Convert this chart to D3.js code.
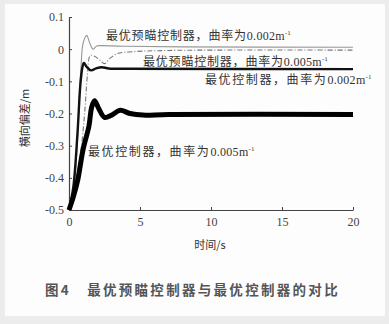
<!DOCTYPE html>
<html><head><meta charset="utf-8">
<script src="https://cdn.jsdelivr.net/npm/d3@7"></script>
<style>
html,body{margin:0;padding:0;background:#ececec;}
svg{display:block;}
</style></head>
<body>
<script>
// ---- data ----
const xTicks = [0, 5, 10, 15, 20];
const yTicks = [0.1, 0, -0.1, -0.2, -0.3, -0.4, -0.5];
const xTickLabels = ["0", "5", "10", "15", "20"];
const yTickLabels = ["0.1", "0", "-0.1", "-0.2", "-0.3", "-0.4", "-0.5"];

// optimal preview controller, curvature 0.002 (thin solid)
const tPrev002 = [0, 0.3, 0.55, 0.7, 0.85, 1.0, 1.25, 1.45, 1.7, 1.95, 2.3, 4, 8, 20];
const vPrev002 = [-0.5, -0.45, -0.32, -0.17, -0.05, 0.02, 0.043, 0.02, 0.0, 0.01, 0.011, 0.009, 0.007, 0.006];

// optimal preview controller, curvature 0.005 (dash-dot)
const tPrev005 = [0, 0.4, 0.8, 1.1, 1.3, 1.5, 1.8, 2.2, 2.5, 2.9, 3.4, 4.5, 7, 20];
const vPrev005 = [-0.5, -0.44, -0.33, -0.2, -0.08, -0.02, -0.022, -0.035, -0.045, -0.028, -0.014, -0.008, -0.004, -0.003];

// optimal controller, curvature 0.002 (medium black)
const tOpt002 = [0, 0.3, 0.6, 0.8, 0.95, 1.05, 1.25, 1.55, 1.9, 2.3, 2.8, 4, 20];
const vOpt002 = [-0.5, -0.43, -0.26, -0.11, -0.055, -0.043, -0.055, -0.066, -0.06, -0.056, -0.06, -0.061, -0.062];

// optimal controller, curvature 0.005 (thick black)
const tOpt005 = [0, 0.3, 0.6, 1.0, 1.4, 1.6, 1.8, 2.1, 2.5, 3.0, 3.6, 4.3, 5.2, 7, 20];
const vOpt005 = [-0.5, -0.46, -0.41, -0.31, -0.24, -0.18, -0.16, -0.185, -0.212, -0.205, -0.19, -0.2, -0.205, -0.203, -0.203];

const yLabel = "横向偏差/m";
const xLabel = "时间/s";
const caption = "图4   最优预瞄控制器与最优控制器的对比";

// ---- drawing ----
const W = 389, H = 324;
const svg = d3.select("body").append("svg").attr("width", W).attr("height", H);
svg.append("rect").attr("x", 5).attr("y", 4).attr("width", 380).attr("height", 312).attr("fill", "#fdfdfd");

const x = d3.scaleLinear().domain([0, 20]).range([69, 353]);
const y = d3.scaleLinear().domain([-0.5, 0.1]).range([210, 17]);

const serif = "'Liberation Serif','Times New Roman',serif";
const cjk = "'Noto Sans CJK SC',sans-serif";

const xAxis = d3.axisBottom(x).tickValues(xTicks).tickFormat((d, i) => xTickLabels[i]).tickSizeInner(-3).tickSizeOuter(0).tickPadding(7);
const yAxis = d3.axisLeft(y).tickValues(yTicks).tickFormat((d, i) => yTickLabels[i]).tickSizeInner(-3).tickSizeOuter(0).tickPadding(5);

const gx = svg.append("g").attr("transform", `translate(0,${y(-0.5)})`).call(xAxis);
const gy = svg.append("g").attr("transform", `translate(${x(0)},0)`).call(yAxis);
[gx, gy].forEach(g => {
  g.selectAll("path").attr("stroke", "#444").attr("stroke-width", 1.2);
  g.selectAll("line").attr("stroke", "#444");
  g.selectAll("text").attr("font-family", serif).attr("font-size", 12).attr("fill", "#444");
});

const line = (ts, vs) => d3.line().x((d, i) => x(ts[i])).y(d => y(d)).curve(d3.curveCatmullRom.alpha(0.5))(vs);

svg.append("path").attr("d", line(tPrev005, vPrev005)).attr("fill", "none")
  .attr("stroke", "#777").attr("stroke-width", 1.1).attr("stroke-dasharray", "5,2,1,2");
svg.append("path").attr("d", line(tPrev002, vPrev002)).attr("fill", "none")
  .attr("stroke", "#999").attr("stroke-width", 1.1);
svg.append("path").attr("d", line(tOpt002, vOpt002)).attr("fill", "none")
  .attr("stroke", "#111").attr("stroke-width", 2.4);
svg.append("path").attr("d", line(tOpt005, vOpt005)).attr("fill", "none")
  .attr("stroke", "#000").attr("stroke-width", 5);

function annot(px, py, main, num, ls) {
  const t = svg.append("text").attr("x", px).attr("y", py).attr("font-family", cjk)
    .attr("font-size", 12).attr("fill", "#333");
  t.append("tspan").attr("letter-spacing", ls).text(main);
  t.append("tspan").attr("font-family", serif).attr("font-size", 12).attr("letter-spacing", 0.3).text(num + "m");
  t.append("tspan").attr("font-family", serif).attr("font-size", 7).attr("dy", -5).text("-1");
}
annot(106, 40, "最优预瞄控制器，曲率为", "0.002", 0.8);
annot(143, 66, "最优预瞄控制器，曲率为", "0.005", 0.8);
annot(205, 84, "最优控制器，曲率为", "0.002", 1.6);
annot(88, 156, "最优控制器，曲率为", "0.005", 1.6);

svg.append("text").attr("transform", `translate(29,${118}) rotate(-90)`).attr("text-anchor", "middle")
  .attr("font-family", cjk).attr("font-size", 11).attr("fill", "#333").text(yLabel);
svg.append("text").attr("x", 210).attr("y", 249).attr("text-anchor", "middle")
  .attr("font-family", cjk).attr("font-size", 11).attr("fill", "#333").text(xLabel);
svg.append("text").attr("x", 45).attr("y", 295).attr("font-family", cjk).attr("font-weight", "bold")
  .attr("font-size", 13.5).attr("letter-spacing", 2.3).attr("fill", "#555").attr("xml:space", "preserve").text(caption);
</script>
</body></html>
